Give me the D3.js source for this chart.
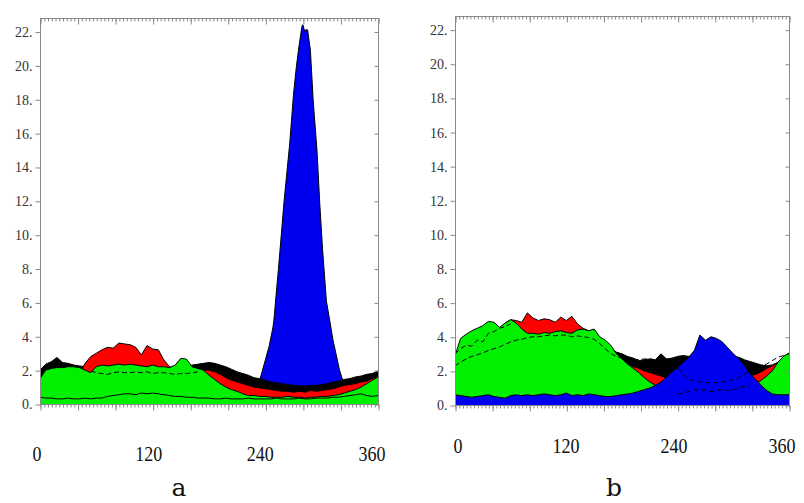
<!DOCTYPE html>
<html><head><meta charset="utf-8">
<script src="https://cdn.jsdelivr.net/npm/d3@7"></script>
<style>body{margin:0;background:#fff}</style>
</head><body><svg id="c" width="804" height="503"></svg>
<script>
// ---------- DATA ----------
const angles = [0,6,12,18,24,30,36,42,48,54, 60,66,72,78,84,90,96,102,108,114,
  120,126,132,138,144,150,156,162,168,174, 180,186,192,198,204,210,216,222,228,234,
  240,246,252,258,264,270,276,282,288,294, 300,306,312,318,324,330,336,342,348,354, 360];
const yTicks = [0,2,4,6,8,10,12,14,16,18,20,22];
const xLabels = [0,120,240,360];
const panelNames = ["a","b"];

// Panel a
const blackA = [2.0,2.35,2.5,2.75,2.45,2.4,2.3,2.25,2.2,2.0, 2.0,2.0,2.0,2.0,2.0,2.0,2.0,2.0,2.0,2.0,
  2.0,2.0,2.0,2.0,2.0,2.1,2.2,2.3,2.35,2.4, 2.45,2.4,2.3,2.2,2.05,1.9,1.8,1.7,1.55,1.5,
  1.4,1.3,1.25,1.2,1.15,1.1,1.1,1.05,1.1,1.1, 1.15,1.2,1.3,1.35,1.45,1.5,1.6,1.65,1.75,1.8, 1.95];
const redA = [1.4,1.8,1.8,1.8,1.8,1.8,1.8,1.8,2.4,2.8, 3.0,3.2,3.35,3.3,3.6,3.55,3.5,3.35,2.9,3.45,
  3.25,3.2,2.6,2.2,2.1,2.0,2.0,2.0,2.0,2.0, 2.0,1.9,1.75,1.55,1.4,1.3,1.2,1.1,1.0,0.95,
  0.9,0.85,0.8,0.75,0.75,0.7,0.75,0.7,0.8,0.75, 0.8,0.85,0.9,1.0,1.1,1.15,1.2,1.3,1.35,1.5, 1.6];
const greenA = [1.5,2.0,2.1,2.15,2.15,2.2,2.2,2.15,2.0,1.85, 2.2,2.3,2.25,2.3,2.35,2.3,2.35,2.3,2.25,2.2,
  2.3,2.2,2.2,2.15,2.3,2.7,2.65,2.2,2.1,2.0, 1.7,1.45,1.2,1.0,0.85,0.75,0.6,0.5,0.5,0.45,
  0.45,0.4,0.4,0.4,0.45,0.4,0.4,0.35,0.4,0.4, 0.45,0.45,0.5,0.55,0.65,0.75,0.85,1.0,1.2,1.4, 1.6];
const blueAnglesA = [228,234,240,244,248,249,254,260,266,270,273,276,279,280,282,283,285,288,291,295,298,301,305,312,319,323,330];
const blueA = [0,1.4,2.6,3.4,4.5,4.9,8.0,12.0,15.4,18.3,19.9,21.2,22.3,22.4,22.0,22.1,22.1,20.9,17.9,15.0,11.8,9.1,6.1,3.8,2.0,1.3,0];
const solidA = [0.4,0.35,0.35,0.3,0.3,0.35,0.3,0.3,0.35,0.3, 0.35,0.35,0.45,0.5,0.55,0.6,0.6,0.55,0.65,0.6,
  0.65,0.6,0.55,0.5,0.45,0.45,0.4,0.4,0.35,0.35, 0.35,0.3,0.3,0.35,0.3,0.3,0.3,0.35,0.3,0.3,
  0.3,0.3,0.35,0.3,0.3,0.3,0.35,0.3,0.3,0.35, 0.35,0.35,0.4,0.4,0.45,0.5,0.55,0.6,0.5,0.45, 0.5];
const dashA = [null,null,null,null,null,null,null,null,null,1.95, 1.85,1.8,1.75,1.85,1.9,1.85,1.85,1.9,1.85,1.9,
  1.8,1.85,1.85,1.8,1.75,1.8,1.8,1.85,1.9,null, null,null,null,null,null,null,null,null,null,null,
  null,null,null,null,null,null,null,null,null,null, null,null,null,null,null,null,null,null,null,null, null];

// Panel b
const blackB = [2.6,2.6,2.6,2.6,2.6,2.6,2.6,2.6,2.6,2.6, 2.6,2.6,2.6,2.6,2.6,2.6,2.6,2.6,2.6,2.6,
  2.6,2.6,2.6,2.6,2.6,2.6,3.7,3.5,3.3,3.1, 3.0,2.85,2.75,2.6,2.65,2.7,2.65,3.0,2.7,2.75,
  2.85,2.9,2.85,2.9,2.85,2.9,2.9,2.85,2.9,2.85, 2.85,2.8,2.65,2.55,2.45,2.35,2.3,2.35,2.5,2.8, 3.0];
const redB = [2.7,3.6,3.9,4.1,4.3,4.4,4.6,4.6,4.4,4.8, 5.0,4.95,4.85,5.4,5.1,4.95,5.05,5.0,4.85,5.15,
  4.95,5.2,4.75,4.5,4.35,4.4,3.9,3.6,3.3,2.9, 2.6,2.4,2.25,2.15,2.0,1.9,1.8,1.7,1.6,1.5,
  1.45,1.45,1.4,1.4,1.4,1.4,1.4,1.4,1.4,1.45, 1.5,1.55,1.6,1.7,1.8,1.95,2.15,2.3,2.5,2.8, 3.0];
const greenB = [2.9,3.9,4.15,4.35,4.5,4.65,4.9,4.85,4.55,4.8, 5.0,4.8,4.45,4.2,4.2,4.15,4.25,4.2,4.3,4.35,
  4.25,4.2,4.4,4.45,4.35,4.45,4.0,3.8,3.5,3.0, 2.7,2.4,2.15,1.9,1.6,1.35,1.15,1.0,0.9,0.8,
  0.75,0.7,0.7,0.7,0.7,0.7,0.7,0.7,0.7,0.7, 0.7,0.8,0.9,1.0,1.2,1.45,1.7,2.0,2.5,2.85, 3.05];
const blueB = [0.6,0.55,0.5,0.45,0.5,0.55,0.6,0.5,0.45,0.4, 0.55,0.6,0.55,0.6,0.55,0.6,0.65,0.6,0.55,0.6,
  0.7,0.55,0.6,0.55,0.65,0.6,0.55,0.5,0.5,0.55, 0.6,0.65,0.7,0.8,0.9,1.0,1.15,1.35,1.65,1.95,
  2.2,2.5,2.8,3.2,4.1,3.8,4.0,3.9,3.7,3.35, 3.0,2.7,2.3,1.85,1.5,1.15,0.85,0.65,0.6,0.6, 0.6];
const dashB1 = [2.3,2.5,2.7,2.85,2.95,3.05,3.2,3.3,3.4,3.55, 3.7,3.8,3.85,3.95,4.0,4.0,4.05,4.1,4.05,4.1,
  4.1,4.0,4.05,4.0,3.95,3.85,3.6,3.3,3.0,2.85, 2.75,2.7,2.7,2.65,2.7,2.7,2.65,2.7,2.7,2.5,
  2.2,1.8,1.5,1.4,1.35,1.3,1.35,1.3,1.35,1.4, 1.5,1.6,1.8,2.0,2.2,2.3,2.4,2.6,2.8,2.9, 3.0];
const dashB2 = [3.0,3.3,3.5,3.45,3.8,3.7,4.2,4.3,4.5,4.6, 4.75,null,null,null,null,null,null,null,null,null,
  null,null,null,null,null,null,null,null,null,null, null,null,null,null,null,null,null,null,null,null,
  null,null,null,null,null,null,null,null,null,null, null,null,null,null,null,null,null,null,null,null, null];
const dashB3 = [null,null,null,null,null,null,null,null,null,null, null,null,null,null,null,null,null,null,null,null,
  null,null,null,null,null,null,null,null,null,null, null,null,null,null,null,null,null,null,null,null,
  0.65,0.7,0.8,0.9,0.85,0.9,0.8,0.85,0.9,0.85, 0.9,1.0,1.1,1.05,null,null,null,null,null,null, null];

// ---------- DRAWING ----------
const svg = d3.select("#c");
const COL = {black:"#000000", red:"#ff0000", green:"#00f000", blue:"#0000f0"};
const frameCol = "#8a8a8a", labelCol = "#333";

function panel(cfg) {
  const g = svg.append("g");
  const x = d3.scaleLinear([0,360],[cfg.L,cfg.R]);
  const y = d3.scaleLinear([0,22.8],[cfg.B,cfg.T]);
  const clipId = "clip" + cfg.name;
  svg.append("clipPath").attr("id", clipId).append("rect")
    .attr("x", cfg.L).attr("y", cfg.T).attr("width", cfg.R-cfg.L).attr("height", cfg.B-cfg.T);
  const plot = g.append("g").attr("clip-path", `url(#${clipId})`);

  cfg.layers.forEach(l => {
    const pts = l.ang.map((a,i)=>[a,l.val[i]]);
    plot.append("path").datum(pts)
      .attr("fill", COL[l.color])
      .attr("d", d3.area().x(d=>x(d[0])).y0(y(0)).y1(d=>y(d[1])));
    plot.append("path").datum(pts)
      .attr("fill","none").attr("stroke","#000").attr("stroke-width",1)
      .attr("d", d3.line().x(d=>x(d[0])).y(d=>y(d[1])));
  });
  cfg.lines.forEach(l => {
    const pts = angles.map((a,i)=>[a,l.val[i]]);
    plot.append("path").datum(pts)
      .attr("fill","none").attr("stroke","#000").attr("stroke-width",1)
      .attr("stroke-dasharray", l.dash ? "5,3" : null)
      .attr("d", d3.line().defined(d=>d[1]!=null).x(d=>x(d[0])).y(d=>y(d[1])));
  });

  // frame
  g.append("rect").attr("x",cfg.L+0.5).attr("y",cfg.T+0.5)
    .attr("width",cfg.R-cfg.L).attr("height",cfg.B-cfg.T)
    .attr("fill","none").attr("stroke",frameCol).attr("stroke-width",1);

  const minor = d3.range(0,361,4), major = d3.range(0,361,40);
  const styleAxis = sel => { sel.select(".domain").remove(); sel.selectAll("line").attr("stroke",frameCol); };
  g.append("g").attr("transform",`translate(0.5,${cfg.B+0.5})`)
    .call(d3.axisBottom(x).tickValues(minor).tickSize(3).tickFormat("")).call(styleAxis);
  g.append("g").attr("transform",`translate(0.5,${cfg.B+0.5})`)
    .call(d3.axisBottom(x).tickValues(major).tickSize(6).tickFormat("")).call(styleAxis);
  g.append("g").attr("transform",`translate(0.5,${cfg.T+0.5})`)
    .call(d3.axisBottom(x).tickValues(minor).tickSize(3).tickFormat("")).call(styleAxis);
  g.append("g").attr("transform",`translate(0.5,${cfg.T+0.5})`)
    .call(d3.axisBottom(x).tickValues(major).tickSize(6).tickFormat("")).call(styleAxis);
  const la = g.append("g").attr("transform",`translate(${cfg.L+0.5},0.5)`)
    .call(d3.axisLeft(y).tickValues(yTicks).tickSize(5).tickPadding(3).tickFormat(d=>d+"."))
    .call(styleAxis);
  la.selectAll("text").attr("font-family","'Liberation Serif', serif").attr("font-size",14)
    .attr("fill",labelCol);
  g.append("g").attr("transform",`translate(${cfg.R+0.5},0.5)`)
    .call(d3.axisLeft(y).tickValues(yTicks).tickSize(4).tickFormat("")).call(styleAxis);

  const xl = d3.scaleLinear([0,360], cfg.labelRange);
  g.selectAll("text.xl").data(xLabels).join("text").attr("class","xl")
    .attr("transform", d=>`translate(${xl(d)},${cfg.labelY}) scale(1,1.2)`)
    .attr("text-anchor","middle").attr("font-family","'Liberation Serif', serif")
    .attr("font-size",18).attr("fill","#111").text(d=>d);
  g.append("text").attr("x",cfg.letterX).attr("y",cfg.letterY).attr("text-anchor","middle")
    .attr("font-family","'DejaVu Serif', serif").attr("font-size",25).attr("fill","#111")
    .text(cfg.name);
}

panel({name:panelNames[0], L:40, R:378, T:18, B:404, labelRange:[37,372], labelY:461, letterX:179, letterY:496,
  layers:[
    {ang:blueAnglesA, val:blueA, color:"blue"},
    {ang:angles, val:blackA, color:"black"},
    {ang:angles, val:redA, color:"red"},
    {ang:angles, val:greenA, color:"green"},
  ],
  lines:[{val:solidA, dash:false},{val:dashA, dash:true}]
});
panel({name:panelNames[1], L:455, R:789, T:16, B:405, labelRange:[458,782], labelY:453, letterX:614, letterY:496,
  layers:[
    {ang:angles, val:blackB, color:"black"},
    {ang:angles, val:redB, color:"red"},
    {ang:angles, val:greenB, color:"green"},
    {ang:angles, val:blueB, color:"blue"},
  ],
  lines:[{val:dashB1, dash:true},{val:dashB2, dash:true},{val:dashB3, dash:true}]
});
</script>
</body></html>
